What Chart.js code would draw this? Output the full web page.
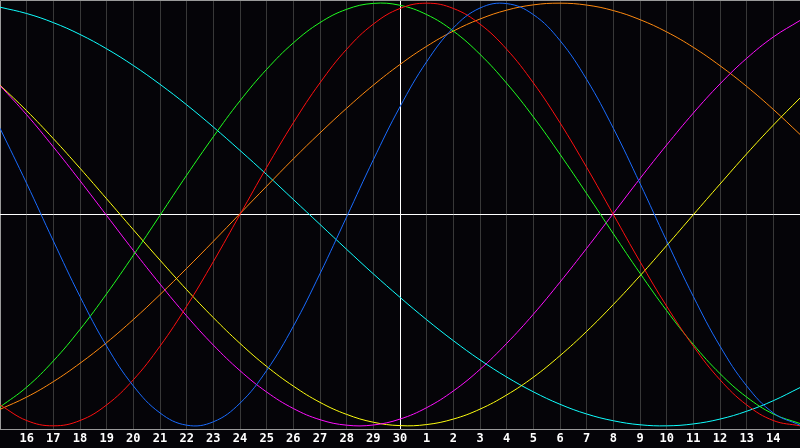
<!DOCTYPE html>
<html>
<head>
<meta charset="utf-8">
<style>
  html, body { margin: 0; padding: 0; background: #050408; }
  canvas { display: block; }
</style>
<script src="https://cdn.jsdelivr.net/npm/chart.js@4.4.1/dist/chart.umd.min.js"></script>
</head>
<body>
<canvas id="chart" width="800" height="448"></canvas>
<script>
// days along the bottom, today (30) in the middle
const days = [15, 16, 17, 18, 19, 20, 21, 22, 23, 24, 25, 26, 27, 28, 29, 30,
  1, 2, 3, 4, 5, 6, 7, 8, 9, 10, 11, 12, 13, 14, 15];
const todayIndex = 15;

// values, one per day, -1 .. 1
const physical = [0.408, 0.147, -0.125, -0.388, -0.623, -0.811, -0.939, -0.997, -0.981, -0.893,
  -0.738, -0.529, -0.280, -0.011, 0.259, 0.510, 0.723, 0.883, 0.977, 0.998,
  0.946, 0.823, 0.639, 0.408, 0.147, -0.125, -0.388, -0.623, -0.811, -0.939, -0.997];
const emotional = [-0.901, -0.975, -1.0, -0.975, -0.901, -0.782, -0.623, -0.434, -0.223, 0.0,
  0.223, 0.434, 0.623, 0.782, 0.901, 0.975, 1.0, 0.975, 0.901, 0.782,
  0.623, 0.434, 0.223, 0.0, -0.223, -0.434, -0.623, -0.782, -0.901, -0.975, -1.0];
const intellectual = [-0.911, -0.817, -0.693, -0.544, -0.375, -0.193, -0.004, 0.186, 0.368, 0.538,
  0.687, 0.812, 0.908, 0.971, 0.999, 0.990, 0.946, 0.868, 0.758, 0.621,
  0.462, 0.285, 0.099, -0.091, -0.278, -0.455, -0.615, -0.753, -0.864, -0.944, -0.989];
const intuitive = [0.610, 0.472, 0.320, 0.160, -0.005, -0.170, -0.329, -0.480, -0.618, -0.739,
  -0.840, -0.918, -0.971, -0.997, -0.996, -0.968, -0.914, -0.835, -0.733, -0.610,
  -0.472, -0.320, -0.160, 0.005, 0.170, 0.329, 0.480, 0.618, 0.739, 0.840, 0.918];
const aesthetic = [0.612, 0.491, 0.359, 0.219, 0.074, -0.072, -0.216, -0.356, -0.488, -0.610,
  -0.719, -0.812, -0.889, -0.946, -0.983, -0.999, -0.994, -0.968, -0.921, -0.854,
  -0.770, -0.668, -0.553, -0.426, -0.290, -0.147, -0.001, 0.144, 0.287, 0.423, 0.551];
const awareness = [-0.922, -0.864, -0.791, -0.704, -0.606, -0.497, -0.379, -0.255, -0.127, 0.004,
  0.134, 0.263, 0.386, 0.503, 0.612, 0.710, 0.796, 0.868, 0.925, 0.967,
  0.992, 1.0, 0.991, 0.965, 0.922, 0.864, 0.791, 0.704, 0.606, 0.497, 0.379];
const spiritual = [0.981, 0.951, 0.908, 0.852, 0.784, 0.705, 0.616, 0.519, 0.414, 0.303,
  0.189, 0.071, -0.047, -0.165, -0.281, -0.392, -0.498, -0.597, -0.688, -0.769,
  -0.839, -0.898, -0.944, -0.976, -0.995, -1.0, -0.991, -0.968, -0.931, -0.881, -0.819];
const zeroLine = days.map(() => 0);

function createLine(label, data, color) {
  return {
    label: label,
    data: data,
    borderColor: color,
    borderWidth: 1,
    pointRadius: 0,
    tension: 0.4,
    fill: false,
  };
}

const framePlugin = {
  id: 'frame',
  beforeDatasetsDraw(chart) {
    const { ctx, chartArea: a } = chart;
    ctx.save();
    ctx.strokeStyle = '#9a9a9a';
    ctx.lineWidth = 1;
    ctx.beginPath();
    ctx.moveTo(a.left + 0.5, a.bottom);
    ctx.lineTo(a.left + 0.5, a.top + 0.5);
    ctx.lineTo(a.right, a.top + 0.5);
    ctx.stroke();
    ctx.restore();
  },
};

const datasets = [
  createLine('Physical', physical, '#1a6cff'),
  createLine('Emotional', emotional, '#ff1010'),
  createLine('Intellectual', intellectual, '#20ff20'),
  createLine('Intuitive', intuitive, '#ff10ff'),
  createLine('Aesthetic', aesthetic, '#ffff10'),
  createLine('Awareness', awareness, '#ff8a10'),
  createLine('Spiritual', spiritual, '#10ffff'),
];
const zero = createLine('zero', zeroLine, '#ffffff');
zero.tension = 0;
zero.order = 10;
datasets.push(zero);

new Chart(document.getElementById('chart'), {
  type: 'line',
  data: {
    labels: days,
    datasets: datasets,
  },
  options: {
    responsive: false,
    animation: false,
    devicePixelRatio: 1,
    layout: { padding: 0, autoPadding: false },
    plugins: {
      legend: { display: false },
      tooltip: { enabled: false },
    },
    scales: {
      x: {
        offset: false,
        grid: {
          offset: false,
          drawTicks: false,
          lineWidth: 1,
          color: (c) =>
            c.index === todayIndex
              ? '#ffffff'
              : c.index === 0 || c.index === days.length - 1
              ? 'rgba(0,0,0,0)'
              : '#383838',
        },
        border: { display: true, color: '#9a9a9a', width: 1 },
        ticks: {
          autoSkip: false,
          maxRotation: 0,
          padding: 0,
          color: '#ffffff',
          font: {
            family: 'DejaVu Sans Mono',
            size: 12,
            weight: 'bold',
            lineHeight: 1.6,
          },
          callback: (v, i) =>
            i === 0 || i === days.length - 1 ? '' : String(days[i]),
        },
        afterFit: (s) => {
          s.height = 19;
          s.paddingLeft = 0;
          s.paddingRight = 0;
        },
      },
      y: {
        display: false,
        min: -1.015,
        max: 1.015,
      },
    },
  },
  plugins: [framePlugin],
});
</script>
</body>
</html>
